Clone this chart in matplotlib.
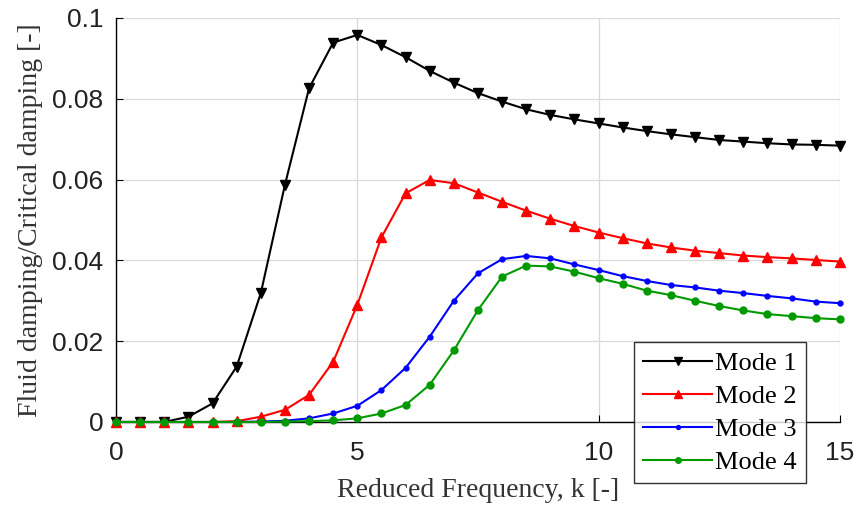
import matplotlib
matplotlib.use("Agg")
import matplotlib.pyplot as plt
import numpy as np

# reduced frequency samples
k = np.arange(0, 15.5, 0.5)

mode1 = [0.0, 0.0, 0.0, 0.0013, 0.0046, 0.0137, 0.0319, 0.0587, 0.0826, 0.0939,
         0.0958, 0.0933, 0.0903, 0.0869, 0.0840, 0.0814, 0.0793, 0.0774, 0.0760,
         0.0749, 0.0739, 0.0729, 0.0720, 0.0712, 0.0705, 0.0698, 0.0694, 0.0690,
         0.0687, 0.0686, 0.0684]
mode2 = [0.0, 0.0, 0.0, 0.0, 0.0, 0.0002, 0.0013, 0.0030, 0.0067, 0.0149,
         0.0290, 0.0457, 0.0566, 0.0599, 0.0591, 0.0568, 0.0545, 0.0523, 0.0503,
         0.0485, 0.0469, 0.0455, 0.0442, 0.0432, 0.0424, 0.0418, 0.0412, 0.0408,
         0.0405, 0.0401, 0.0397]
mode3 = [0.0, 0.0, 0.0, 0.0, 0.0, 0.0, 0.0001, 0.0003, 0.0009, 0.0021,
         0.0040, 0.0079, 0.0134, 0.0211, 0.0300, 0.0368, 0.0403, 0.0411, 0.0405,
         0.0390, 0.0376, 0.0361, 0.0349, 0.0339, 0.0333, 0.0325, 0.0319, 0.0312,
         0.0306, 0.0298, 0.0294]
mode4 = [0.0, 0.0, 0.0, 0.0, 0.0, 0.0, 0.0, 0.0001, 0.0002, 0.0004,
         0.0009, 0.0021, 0.0042, 0.0092, 0.0177, 0.0277, 0.0360, 0.0387, 0.0385,
         0.0372, 0.0356, 0.0342, 0.0325, 0.0314, 0.0300, 0.0287, 0.0276, 0.0267,
         0.0262, 0.0257, 0.0254]

labels = ["Mode 1", "Mode 2", "Mode 3", "Mode 4"]
xticks = [0, 5, 10, 15]
yticks = [0, 0.02, 0.04, 0.06, 0.08, 0.1]
ytick_labels = ["0", "0.02", "0.04", "0.06", "0.08", "0.1"]

fig = plt.figure(figsize=(8.57, 5.05), dpi=100)
ax = fig.add_axes([0.1354, 0.1644, 0.8446, 0.8])

styles = [("k", "v", 6.5), ("#ff0000", "^", 6.5), ("#0000ff", "o", 3.5),
          ("#009a00", "o", 5)]
for series, lab, (c, m, ms) in zip([mode1, mode2, mode3, mode4], labels, styles):
    ax.plot(k, series, color=c, marker=m, markersize=ms, linewidth=1.5,
            label=lab, clip_on=False, zorder=3)

ax.set_xlim(0, 15)
ax.set_ylim(0, 0.1)
ax.set_xticks(xticks)
ax.set_yticks(yticks)
ax.set_yticklabels(ytick_labels)
ax.grid(True, color="#d9d9d9", linewidth=0.9)
ax.set_axisbelow(True)
for side in ["top", "right"]:
    ax.spines[side].set_visible(False)
for side in ["left", "bottom"]:
    ax.spines[side].set_linewidth(1.0)
ax.tick_params(direction="in", length=5, labelsize=19, colors="k")
for lbl in ax.get_xticklabels() + ax.get_yticklabels():
    lbl.set_family("Liberation Sans")
    lbl.set_color("#222222")
ax.tick_params(axis="x", pad=14)
ax.tick_params(axis="y", pad=9)

ax.set_xlabel("Reduced Frequency, k [-]", family="Liberation Serif",
              fontsize=20, color="#333333", labelpad=9)
ax.set_ylabel("Fluid damping/Critical damping [-]", family="Liberation Serif",
              fontsize=20, color="#333333", labelpad=7)

lgd = ax.legend(loc="upper left", bbox_to_anchor=(0.7155, 0.198),
                prop={"family": "Liberation Serif", "size": 19},
                frameon=True, fancybox=False, handlelength=2.6,
                borderpad=0.36, labelspacing=0.36, handletextpad=0.1,
                borderaxespad=0, markerscale=0.8)
lgd.get_frame().set_edgecolor("k")
lgd.get_frame().set_linewidth(1.0)
lgd.set_zorder(5)

fig.savefig("out.png", dpi=100)
